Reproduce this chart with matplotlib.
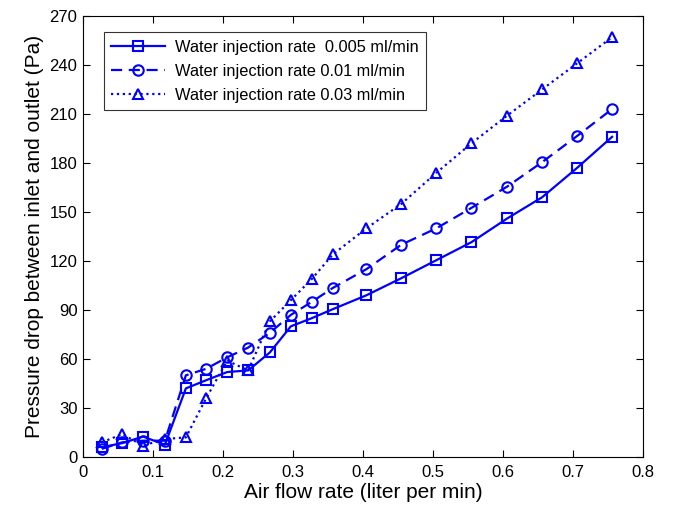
import numpy as np
from matplotlib import pyplot as plt

plt.rcParams['font.family'] = ['Liberation Sans', 'DejaVu Sans']

# air flow rate (liter per min)
air_flow = [0.027, 0.056, 0.086, 0.117, 0.147, 0.176, 0.206, 0.236, 0.267, 0.297,
            0.327, 0.357, 0.405, 0.455, 0.505, 0.555, 0.606, 0.656, 0.706, 0.756]

# pressure drop (Pa) for each water injection rate
dp_0005 = [6, 8.5, 12.5, 7.5, 42, 47, 52, 53, 64, 80,
           85, 90.5, 99, 109.5, 120.5, 131.5, 146, 159, 177, 196]
dp_001 = [5, 9, 10, 10, 50, 54, 61, 67, 76, 87,
          95, 103.5, 115, 130, 140, 152.5, 165.5, 180.5, 196.5, 213]
dp_003 = [9, 14, 7, 11, 12, 36, 59, 53, 83, 96,
          109, 124, 140, 155, 174, 192, 209, 225, 241, 257]

labels = ["Water injection rate  0.005 ml/min",
          "Water injection rate 0.01 ml/min",
          "Water injection rate 0.03 ml/min"]

blue = '#0000ff'

fig = plt.figure(figsize=(6.73, 5.07), dpi=100)
ax = fig.add_axes([0.1233, 0.0986, 0.832, 0.870])

mk = dict(markersize=7.5, markerfacecolor='none', markeredgewidth=1.5, color=blue, linewidth=1.6)
ax.plot(air_flow, dp_0005, '-', marker='s', label=labels[0], **mk)
ax.plot(air_flow, dp_001, '--', marker='o', label=labels[1], dashes=(5, 3), **mk)
ax.plot(air_flow, dp_003, ':', marker='^', label=labels[2], **mk)

ax.set_xlim(0, 0.8)
ax.set_ylim(0, 270)
ax.set_xticks(np.arange(0, 0.81, 0.1))
ax.set_xticklabels(['0', '0.1', '0.2', '0.3', '0.4', '0.5', '0.6', '0.7', '0.8'])
ax.set_yticks(np.arange(0, 271, 30))
ax.tick_params(direction='in', top=True, right=True, labelsize=12, length=5, width=0.8)
ax.tick_params(axis='x', pad=6)
ax.tick_params(axis='y', pad=4)
for s in ax.spines.values():
    s.set_linewidth(0.8)

ax.set_xlabel("Air flow rate (liter per min)", fontsize=15, labelpad=2)
ax.set_ylabel("Pressure drop between inlet and outlet (Pa)", fontsize=15, labelpad=4)

leg = ax.legend(loc='upper left', bbox_to_anchor=(0.037, 0.963), fontsize=11.8,
                frameon=True, fancybox=False, edgecolor='black', handlelength=3.3,
                borderpad=0.45, labelspacing=0.55, handletextpad=0.6, borderaxespad=0)
leg.get_frame().set_linewidth(0.8)

plt.savefig("out.png", dpi=100)
